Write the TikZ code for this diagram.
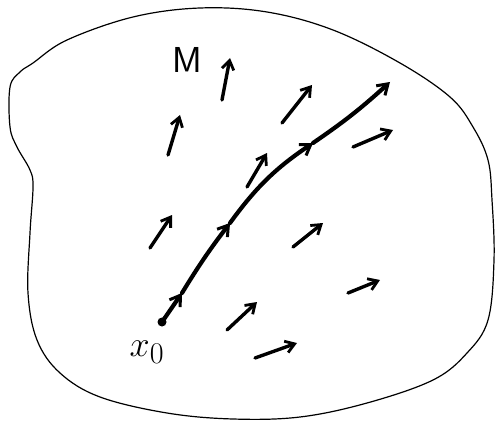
\documentclass[tikz,border=0pt]{standalone}
\usepackage{amsmath}
\usetikzlibrary{arrows.meta,calc}
\tikzset{
  rim/.style={draw=black,line width=1.2pt,line join=round},
  vec/.style={-{Straight Barb[length=9pt,width=12pt,line width=2.8pt]},line width=3.4pt,line cap=round},
  flow/.style={-{Straight Barb[length=10pt,width=13pt,line width=3pt]},line width=4.2pt,line cap=round},
  lab/.style={font=\Huge,scale=1.45,inner sep=0pt},
}
\begin{document}
\begin{tikzpicture}[x=1pt,y=1pt]
\useasboundingbox (0,0) rectangle (497,429);
\draw[rim] plot[smooth cycle,tension=0.6] coordinates {(10,342) (20,357) (33,366) (67,389) (133,412) (200,421) (267,417) (333,399) (400,366) (450,332) (473,302) (488,269) (492,229) (494,169) (488,109) (467,76) (433,49) (367,26) (300,12) (233,10) (167,16) (100,32) (60,56) (37,89) (28,136) (30,196) (33,242) (30,259) (17,282) (10,302)};
\foreach \ax/\ay/\bx/\by in {222/329/230/371,168/274/180/314,282/306/312/344,353/282/393/299,247/242/267/276,150/181/172/214,293/182/323/206,348/136/380/149,227/99/257/127,255/71/297/86}
  {\draw[vec] (\ax,\ay)--(\bx,\by);}
\coordinate (x0) at (162,107);
\coordinate (p1) at (182,136);
\coordinate (p2) at (230,206);
\coordinate (p3) at (313,286);
\coordinate (p4) at (390,347);
\fill (x0) circle (4.5);
\draw[flow] (x0)--(p1);
\draw[flow] (p1) to[bend left=3] (p2);
\draw[flow] (p2) to[bend left=10] (p3);
\draw[flow] (p3) to[bend right=4] (p4);
\node[lab] (mlab) at (187,369) {$\mathsf{M}$};
\node[lab] (xlab) at (147,77) {$x_0$};
\end{tikzpicture}
\end{document}
